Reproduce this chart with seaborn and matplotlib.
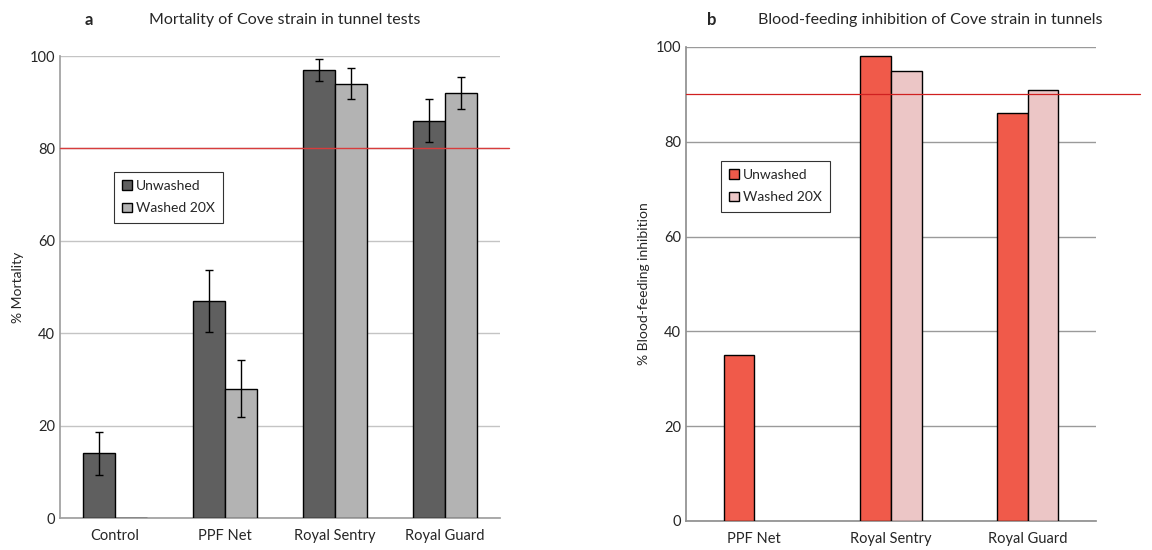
import matplotlib
matplotlib.use("Agg")
import matplotlib.pyplot as plt
import seaborn as sns
import pandas as pd

# ---- data ----
cats_a = ["Control", "PPF Net", "Royal Sentry", "Royal Guard"]
mort_unwashed = [14, 47, 97, 86]
mort_washed = [0, 28, 94, 92]
err_unwashed = [4.6, 6.7, 2.4, 4.7]
err_washed = [0, 6.1, 3.4, 3.4]

cats_b = ["PPF Net", "Royal Sentry", "Royal Guard"]
bfi_unwashed = [35, 98, 86]
bfi_washed = [None, 95, 91]

series = ["Unwashed", "Washed 20X"]

sns.set_theme(style="white")
plt.rcParams['font.family'] = ['Lato', 'DejaVu Sans']

fig = plt.figure(figsize=(11.52, 5.5), dpi=100)
W, H = 1152, 550
ax1 = fig.add_axes([60 / W, 1 - 518 / H, 440 / W, 462 / H])
ax2 = fig.add_axes([686 / W, 1 - 521 / H, 410 / W, 474 / H])

# ---- panel a ----
rows = []
for c, u, w in zip(cats_a, mort_unwashed, mort_washed):
    rows.append((c, series[0], u))
    rows.append((c, series[1], w))
dfa = pd.DataFrame(rows, columns=["cat", "series", "val"])
sns.barplot(data=dfa, x="cat", y="val", hue="series", order=cats_a, hue_order=series,
            palette=["#5f5f5f", "#b3b3b3"], width=0.58, errorbar=None, saturation=1,
            edgecolor="black", linewidth=1, ax=ax1, zorder=3)
# error bars at bar centers
for container, errs, vals in zip(ax1.containers, [err_unwashed, err_washed], [mort_unwashed, mort_washed]):
    for patch, e, v in zip(container.patches, errs, vals):
        if e > 0:
            xc = patch.get_x() + patch.get_width() / 2
            ax1.errorbar(xc, v, yerr=e, color="black", lw=1, capsize=3, capthick=1, zorder=5)
ax1.set_ylim(0, 100)
ax1.set_xlim(-0.5, 3.5)
ax1.set_yticks([0, 20, 40, 60, 80, 100])
ax1.yaxis.grid(True, color="#c4c4c4", lw=1)
ax1.set_axisbelow(True)
ax1.axhline(80, color="#d83c3c", lw=1, xmax=1.02, clip_on=False, zorder=4)
ax1.set_xlabel("")
ax1.set_ylabel("% Mortality", fontsize=10)
for s in ["top", "right"]:
    ax1.spines[s].set_visible(False)
for s in ["left", "bottom"]:
    ax1.spines[s].set_color("#a0a0a0")
ax1.tick_params(axis="both", labelsize=10.5, length=0)
ax1.tick_params(axis="x", pad=8)
leg = ax1.legend(loc="upper left", bbox_to_anchor=(0.107, 0.765), fontsize=10,
                 frameon=True, fancybox=False, edgecolor="black", handlelength=0.7,
                 handleheight=0.7, labelspacing=0.75, borderpad=0.6, handletextpad=0.3)
leg.get_frame().set_linewidth(0.8)
fig.text(85 / W, 1 - 20 / H, "a", fontsize=12, fontweight="bold", va="center")
fig.text(285 / W, 1 - 20 / H, "Mortality of Cove strain in tunnel tests", fontsize=11.5, ha="center", va="center")

# ---- panel b ----
rows = []
for c, u, w in zip(cats_b, bfi_unwashed, bfi_washed):
    rows.append((c, series[0], u))
    if w is not None:
        rows.append((c, series[1], w))
dfb = pd.DataFrame(rows, columns=["cat", "series", "val"])
sns.barplot(data=dfb, x="cat", y="val", hue="series", order=cats_b, hue_order=series,
            palette=["#f05a4a", "#ecc6c6"], width=0.45, errorbar=None, saturation=1,
            edgecolor="black", linewidth=1, ax=ax2, zorder=3)
ax2.set_ylim(0, 100)
ax2.set_xlim(-0.5, 2.5)
ax2.set_yticks([0, 20, 40, 60, 80, 100])
ax2.yaxis.grid(True, color="#9a9a9a", lw=1)
ax2.set_axisbelow(True)
ax2.axhline(90, color="#d02020", lw=0.9, xmax=1.107, clip_on=False, zorder=4)
ax2.set_xlabel("")
ax2.set_ylabel("% Blood-feeding inhibition", fontsize=10)
for s in ["top", "right"]:
    ax2.spines[s].set_visible(False)
for s in ["left", "bottom"]:
    ax2.spines[s].set_color("#909090")
ax2.tick_params(axis="both", labelsize=10.5, length=0)
ax2.tick_params(axis="x", pad=8)
leg2 = ax2.legend(loc="upper left", bbox_to_anchor=(0.068, 0.775), fontsize=10,
                  frameon=True, fancybox=False, edgecolor="black", handlelength=0.7,
                  handleheight=0.7, labelspacing=0.75, borderpad=0.6, handletextpad=0.3)
leg2.get_frame().set_linewidth(0.8)
fig.text(707 / W, 1 - 20 / H, "b", fontsize=12, fontweight="bold", va="center")
fig.text(930 / W, 1 - 20 / H, "Blood-feeding inhibition of Cove strain in tunnels", fontsize=11.5, ha="center", va="center")

fig.savefig("out.png", dpi=100)
